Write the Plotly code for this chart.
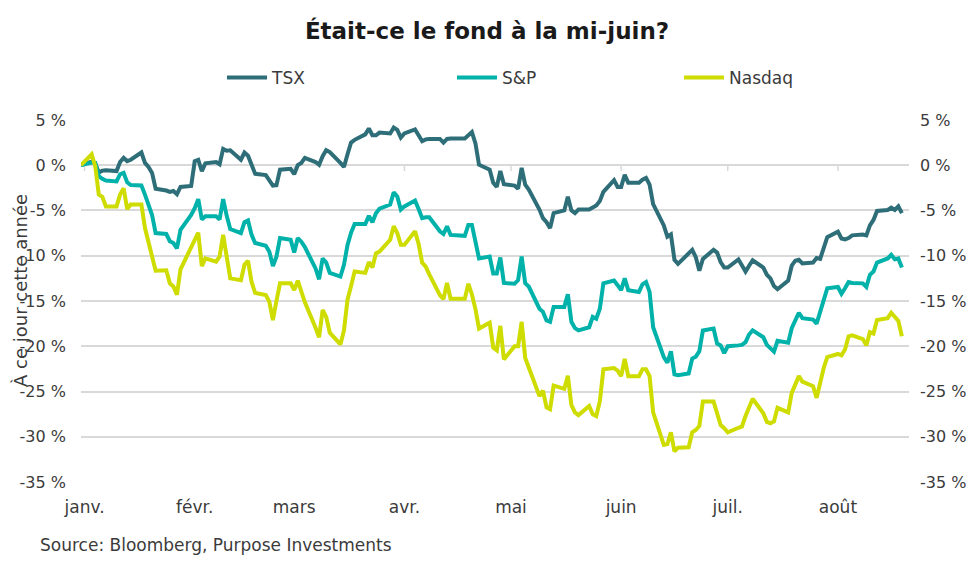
import plotly.graph_objects as go
import pandas as pd

# ---------------- data (year-to-date returns, %) ----------------
# trading days: 2021-12-31 base, then weekdays Jan 3 - Aug 19 2022 (Good Friday excluded)
dates = ["2021-12-31"] + [d.strftime("%Y-%m-%d") for d in pd.bdate_range("2022-01-03", "2022-08-19")
                          if d.strftime("%Y-%m-%d") != "2022-04-15"]

tsx = [0,
    0.4, 0.2, -0.8, -0.6, -0.55, -0.65, 0.35, 0.8, 0.45, 0.6, 1.4, 0.25, -0.2, -0.85, -2.6, -2.8, -2.95, -2.85, -3.2, -2.4, -2.3,
    0.45, 0.6, -0.65, 0.2, 0.35, 0.1, 1.8, 1.6, 1.65, 0.6, 1.4, 1.05, 0.05, -0.95, -1.1, -1.6, -2.25, -2.2, -0.5, -0.4,
    -1.0, 0.0, 0.25, 0.8, 0.35, 0.05, 1.0, 1.65, 1.45, 0.25, -0.2, 1.2, 2.5, 2.8, 3.4, 4.05, 3.3, 3.3, 3.6, 3.5, 4.15, 3.9, 3.05,
    3.5, 3.95, 3.3, 2.65, 2.85, 2.9, 2.9, 2.5, 2.9, 2.95, 2.95, 3.35, 3.65, 2.4, 0.05, -0.5, -1.95, -2.4, -0.65, -2.1,
    -2.25, -2.6, -0.3, -2.15, -2.7, -4.9, -5.85, -6.3, -6.95, -5.3, -5.0, -3.5, -5.0, -5.3, -4.9, -4.9, -4.7, -4.45, -3.95, -2.95, -1.65, -2.4,
    -2.4, -1.05, -1.95, -1.95, -1.6, -1.4, -2.15, -4.3, -6.65, -7.9, -7.65, -10.45, -10.9, -9.75, -9.35, -10.15, -11.65, -10.35, -9.35, -9.65, -10.7, -11.3,
    -11.3, -10.4, -11.0, -11.75, -11.1, -10.5, -11.3, -12.1, -12.5, -13.35, -13.7, -12.75, -11.1, -10.55, -10.45, -10.85, -10.75, -10.25, -10.35, -9.15, -7.95,
    -7.35, -8.1, -8.2, -8.05, -7.75, -7.65, -7.75, -6.65, -6.05, -5.05, -4.95, -4.7, -4.95, -4.55, -5.3]

sp500 = [0,
    0.3, 0.25, -1.2, -1.5, -1.7, -1.8, -1.0, -0.85, -1.9, -2.2, -2.25, -3.25, -4.55, -5.5, -7.5, -7.6, -8.4, -8.6, -9.2, -7.15, -5.5,
    -4.75, -3.75, -6.0, -5.65, -5.65, -6.0, -3.75, -5.6, -7.05, -7.5, -6.3, -6.1, -7.7, -8.6, -8.9, -9.55, -11.15, -10.1, -8.05, -8.25,
    -9.65, -8.05, -8.45, -9.05, -11.4, -12.6, -10.3, -10.75, -11.9, -12.3, -11.0, -8.8, -7.45, -6.5, -6.5, -5.6, -6.3, -5.3, -4.8, -4.35, -3.0, -3.45, -4.9,
    -4.55, -3.9, -4.85, -5.85, -5.75, -5.75, -7.3, -7.6, -6.75, -7.7, -7.8, -6.6, -6.6, -8.25, -10.3, -10.1, -11.95, -11.95, -10.2, -13.0,
    -13.1, -12.7, -10.1, -13.05, -13.4, -15.85, -16.2, -17.15, -17.3, -15.65, -15.65, -14.25, -17.3, -18.0, -18.25, -17.9, -16.75, -16.95, -15.85, -13.05, -12.75, -13.25,
    -13.8, -12.5, -13.8, -14.0, -13.15, -12.9, -14.0, -17.9, -21.2, -21.8, -20.55, -23.1, -23.2, -23.0, -21.35, -21.15, -20.55, -18.25, -18.05, -19.7, -19.9, -20.75,
    -20.0, -19.9, -19.85, -19.55, -18.7, -18.25, -19.0, -19.85, -20.3, -20.6, -19.4, -19.6, -18.0, -17.2, -16.3, -16.9, -17.05, -17.5, -16.2, -14.7, -13.6,
    -13.45, -14.2, -13.6, -12.9, -13.0, -13.05, -13.45, -12.1, -11.75, -10.75, -10.3, -9.9, -10.4, -10.3, -11.3]

nasdaq = [0,
    1.2, -0.1, -3.25, -3.5, -4.55, -4.55, -3.25, -2.55, -4.85, -4.35, -4.35, -6.95, -8.45, -10.1, -11.65, -11.6, -13.05, -13.4, -14.3, -11.5, -9.2,
    -8.25, -7.45, -11.15, -10.3, -10.65, -10.1, -7.7, -10.1, -12.5, -12.7, -11.0, -10.55, -12.9, -14.1, -14.35, -15.1, -17.1, -15.0, -13.05, -13.05,
    -13.8, -12.75, -13.8, -15.15, -17.95, -19.0, -16.0, -16.75, -18.5, -19.8, -18.25, -14.85, -13.35, -11.75, -11.9, -10.7, -11.3, -9.75, -9.55, -8.25, -6.75, -7.5, -8.8,
    -8.8, -7.3, -8.7, -10.75, -11.2, -12.05, -14.35, -14.8, -13.0, -14.75, -14.75, -13.1, -14.25, -15.9, -18.05, -17.4, -20.15, -20.45, -17.75, -21.45,
    -20.0, -20.0, -17.3, -21.3, -22.3, -25.5, -24.9, -26.75, -26.95, -24.35, -24.7, -23.25, -26.5, -27.3, -27.6, -26.6, -27.5, -27.7, -26.1, -22.55, -22.4, -22.7,
    -23.3, -21.4, -23.3, -23.3, -22.55, -22.55, -23.3, -27.3, -30.9, -30.8, -29.5, -31.6, -31.2, -31.15, -29.5, -29.25, -28.8, -26.1, -26.1, -27.4, -28.7, -29.05,
    -29.5, -29.0, -28.85, -27.7, -26.75, -25.8, -27.4, -28.35, -28.5, -28.3, -26.8, -27.3, -25.15, -24.3, -23.3, -23.9, -24.4, -25.7, -23.85, -22.4, -21.2,
    -20.85, -21.0, -20.35, -18.9, -18.8, -19.2, -19.9, -18.45, -18.6, -17.1, -16.9, -16.3, -16.8, -17.2, -18.9]

series_names = ["TSX", "S&P", "Nasdaq"]
series_colors = ["#2E6E78", "#00B2A9", "#CEDC00"]

month_dates = ["2022-01-01", "2022-02-01", "2022-03-01", "2022-04-01",
               "2022-05-01", "2022-06-01", "2022-07-01", "2022-08-01"]
month_labels = ["janv.", "févr.", "mars", "avr.", "mai", "juin", "juil.", "août"]

y_ticks = [5, 0, -5, -10, -15, -20, -25, -30, -35]
y_labels = [f"{v} %" for v in y_ticks]

# ---------------- figure ----------------
FONT = "DejaVu Sans"
TXT = "#3B3B3B"
GRID = "#D9D9D9"
OFF = 8                       # the page body adds an 8 px margin
W, H = 975 - 2 * OFF, 568 - 2 * OFF
L, T = 81 - OFF, 119 - OFF    # plot area left / top (page px 81 / 119)
R = W - (909 - OFF)           # plot right at page px 909
B = H - (483 - OFF)           # plot bottom at page px 483
PW = W - L - R
PH = H - T - B


def px_x(page_x):
    return (page_x - OFF - L) / PW


def px_y(page_y):
    return 1 - (page_y - OFF - T) / PH


fig = go.Figure()
legend_ids = ["legend", "legend2", "legend3"]
for name, vals, col, lg in zip(series_names, [tsx, sp500, nasdaq], series_colors, legend_ids):
    fig.add_trace(go.Scatter(x=dates, y=vals, name=name, mode="lines", legend=lg,
                             line=dict(color=col, width=4)))

# transparent copy on the right-hand axis so that it is drawn
fig.add_trace(go.Scatter(x=dates, y=nasdaq, yaxis="y2", mode="lines", showlegend=False,
                         hoverinfo="skip", line=dict(color="rgba(0,0,0,0)", width=0)))

# small month tick marks on the 0 % line
for m in month_dates:
    fig.add_shape(type="line", xref="x", yref="y", x0=m, x1=m, y0=0, y1=-0.65,
                  line=dict(color=GRID, width=1.5), layer="below")


def legend_box(line_start_page_x):
    return dict(orientation="h", x=px_x(line_start_page_x - 6), xanchor="left",
                y=px_y(78), yanchor="middle", itemwidth=40,
                font=dict(family=FONT, size=17, color=TXT), bgcolor="rgba(0,0,0,0)")


fig.update_layout(
    width=W, height=H, autosize=False,
    margin=dict(l=L, r=R, t=T, b=B, autoexpand=False),
    paper_bgcolor="white", plot_bgcolor="white",
    font=dict(family=FONT, color=TXT, size=16),
    title=dict(text="<b>Était-ce le fond à la mi-juin?</b>", x=(487 - OFF) / W, xref="container",
               xanchor="center", y=1 - (31 - OFF) / H, yref="container", yanchor="middle",
               font=dict(family=FONT, size=23, color="#1A1A1A")),
    showlegend=True,
    legend=legend_box(228),
    legend2=legend_box(458),
    legend3=legend_box(685),
    xaxis=dict(type="date", range=["2021-12-31", "2022-08-21"], tickvals=month_dates,
               ticktext=month_labels, showgrid=False, zeroline=False, showline=False,
               ticks="", ticklabelstandoff=12, automargin=False,
               tickfont=dict(size=17, color=TXT)),
    yaxis=dict(range=[-35.1, 5.1], tickvals=y_ticks, ticktext=y_labels, showgrid=True,
               gridcolor=GRID, gridwidth=1.5, zeroline=False, showline=False, ticks="",
               ticklabelstandoff=14, automargin=False, tickfont=dict(size=16, color=TXT)),
    yaxis2=dict(range=[-35.1, 5.1], tickvals=y_ticks, ticktext=y_labels, overlaying="y",
                side="right", showgrid=False, zeroline=False, showline=False, ticks="",
                ticklabelstandoff=10, automargin=False, tickfont=dict(size=16, color=TXT)),
    annotations=[
        dict(text="À ce jour cette année", textangle=-90, xref="paper", yref="paper",
             x=px_x(20), y=px_y(291), xanchor="center", yanchor="middle",
             showarrow=False, font=dict(family=FONT, size=18, color=TXT)),
        dict(text="Source: Bloomberg, Purpose Investments", xref="paper", yref="paper",
             x=px_x(38), y=px_y(545), xanchor="left", yanchor="middle",
             showarrow=False, font=dict(family=FONT, size=17, color=TXT)),
    ],
)

fig.write_html("out.html")
